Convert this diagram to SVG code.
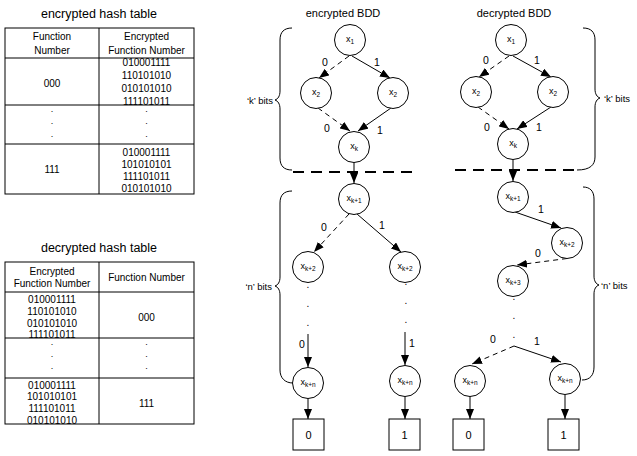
<svg xmlns="http://www.w3.org/2000/svg" width="637" height="456" viewBox="0 0 637 456">
<style>
text{font-family:"Liberation Sans",Arial,sans-serif;fill:#000}
.tt{font-size:12.5px;text-anchor:middle}
.bt{font-size:11px;text-anchor:middle}
.tb{font-size:10px;text-anchor:middle}
.dt{font-size:9px;text-anchor:middle}
.lb{font-size:10.5px;text-anchor:middle}
.br{font-size:9.5px}
.nl{font-size:9px;text-anchor:middle}
.sb{font-size:6.5px}
.tl{font-size:11px;text-anchor:middle}
.grid{fill:none;stroke:#000;stroke-width:1}
.nd circle{fill:#fff;stroke:#000;stroke-width:1}
.nd rect{fill:#fff;stroke:#000;stroke-width:1}
.e{fill:none;stroke:#000;stroke-width:1;marker-end:url(#ah)}
.d{stroke-dasharray:5 4}
.brace{fill:none;stroke:#000;stroke-width:1}
.sep{fill:none;stroke:#000;stroke-width:2;stroke-dasharray:11 7}
</style>
<defs>
<marker id="ah" markerUnits="userSpaceOnUse" markerWidth="10" markerHeight="8" refX="10" refY="4" orient="auto">
<path d="M0,0 L10,4 L0,8 z" fill="#000"/>
</marker>
</defs>
<rect width="637" height="456" fill="#fff"/>

<g id="enc-table">
<text class="tt" x="99" y="17.5">encrypted hash table</text>
<rect class="grid" x="5" y="28" width="189" height="166"/>
<path class="grid" d="M99 28V194M5 58H194M5 105H194M5 144H194"/>
<text class="tb" x="52" y="39.5">Function</text>
<text class="tb" x="52" y="53.5">Number</text>
<text class="tb" x="146.5" y="39.5">Encrypted</text>
<text class="tb" x="146.5" y="53.5">Function Number</text>
<text class="tb" x="52" y="86.5">000</text>
<text class="tb" x="146.5" y="66">010001111</text>
<text class="tb" x="146.5" y="79">110101010</text>
<text class="tb" x="146.5" y="92">010101010</text>
<text class="tb" x="146.5" y="104.5">111101011</text>
<text class="dt" x="52" y="111.5">.</text>
<text class="dt" x="52" y="124">.</text>
<text class="dt" x="52" y="136.5">.</text>
<text class="dt" x="146.5" y="111.5">.</text>
<text class="dt" x="146.5" y="124">.</text>
<text class="dt" x="146.5" y="136.5">.</text>
<text class="tb" x="52" y="173">111</text>
<text class="tb" x="146.5" y="155.5">010001111</text>
<text class="tb" x="146.5" y="167.5">101010101</text>
<text class="tb" x="146.5" y="179.5">111101011</text>
<text class="tb" x="146.5" y="191.7">010101010</text>
</g>

<g id="dec-table">
<text class="tt" x="99" y="251.5">decrypted hash table</text>
<rect class="grid" x="5" y="262" width="189" height="162"/>
<path class="grid" d="M99 262V424M5 292H194M5 338H194M5 378H194"/>
<text class="tb" x="52" y="275">Encrypted</text>
<text class="tb" x="52" y="287">Function Number</text>
<text class="tb" x="146.5" y="280.5">Function Number</text>
<text class="tb" x="52" y="303">010001111</text>
<text class="tb" x="52" y="315">110101010</text>
<text class="tb" x="52" y="327">010101010</text>
<text class="tb" x="52" y="338">111101011</text>
<text class="tb" x="146.5" y="321">000</text>
<text class="dt" x="52" y="345">.</text>
<text class="dt" x="52" y="357">.</text>
<text class="dt" x="52" y="369">.</text>
<text class="dt" x="146.5" y="345">.</text>
<text class="dt" x="146.5" y="357">.</text>
<text class="dt" x="146.5" y="369">.</text>
<text class="tb" x="52" y="388.5">010001111</text>
<text class="tb" x="52" y="400.3">101010101</text>
<text class="tb" x="52" y="412">111101011</text>
<text class="tb" x="52" y="423.5">010101010</text>
<text class="tb" x="146.5" y="407">111</text>
</g>

<g id="titles">
<text class="bt" x="343" y="17">encrypted BDD</text>
<text class="bt" x="514" y="17">decrypted BDD</text>
</g>

<g id="braces">
<path class="brace" d="M292 28C284 28 280 32 280 40L280 91C280 96 278 99 275 100C278 101 280 104 280 109L280 158C280 166 284 170 292 170"/>
<text class="br" x="273" y="103.5" text-anchor="end">‘k’ bits</text>
<path class="brace" d="M292 191C284 191 280 195 280 203L280 277C280 282 278 285 275 286C278 287 280 290 280 295L280 370C280 378 285 383 293 383"/>
<text class="br" x="272" y="289.5" text-anchor="end">‘n’ bits</text>
<path class="brace" d="M583 28C591 28 595 32 595 40L595 89C595 94 597 97 600 98C597 99 595 102 595 107L595 157C595 165 590 170 577 170"/>
<text class="br" x="604" y="101.5">‘k’ bits</text>
<path class="brace" d="M583 187C590 187 594 191 594 199L594 276C594 281 596 284 599 285C596 286 594 289 594 294L594 367C594 375 590 380 582 380"/>
<text class="br" x="601" y="288.5">‘n’ bits</text>
<path class="sep" d="M293 172H417"/>
<path class="sep" d="M455 170H577"/>
</g>

<g id="connectors">
<path class="e d" d="M349 56L319 78"/>
<path class="e" d="M352 56L390 78"/>
<path class="e d" d="M318 108L350 131"/>
<path class="e" d="M391 108L358 131"/>
<path class="e" d="M354 162.5V183"/>
<path class="e d" d="M349 214L314 252"/>
<path class="e" d="M357 214L401 252"/>
<path class="e" d="M308 334V367"/>
<path class="e" d="M405 332V365"/>
<path class="e" d="M308 398.5V419"/>
<path class="e" d="M405 396.5V419"/>
<path class="e d" d="M509 56L479 77"/>
<path class="e" d="M513 56L551 77"/>
<path class="e d" d="M478 107L509 129"/>
<path class="e" d="M551 107L517 129"/>
<path class="e" d="M513 159.5V181"/>
<path class="e" d="M515 212L561 228"/>
<path class="e d" d="M567 258.5L517 265"/>
<path class="e d" d="M514 346L472 364"/>
<path class="e" d="M514 346L561 362"/>
<path class="e" d="M470 396.5V419"/>
<path class="e" d="M565 394.5V419"/>
<text class="lb" x="325" y="66">0</text>
<text class="lb" x="377" y="66">1</text>
<text class="lb" x="327" y="132">0</text>
<text class="lb" x="380" y="134">1</text>
<text class="lb" x="324" y="231">0</text>
<text class="lb" x="382" y="229">1</text>
<text class="lb" x="302" y="348">0</text>
<text class="lb" x="412" y="347">1</text>
<text class="lb" x="486" y="64">0</text>
<text class="lb" x="537" y="64">1</text>
<text class="lb" x="487" y="131">0</text>
<text class="lb" x="539" y="131">1</text>
<text class="lb" x="541" y="213">1</text>
<text class="lb" x="538" y="257">0</text>
<text class="lb" x="493" y="343">0</text>
<text class="lb" x="537" y="345">1</text>
</g>

<g id="e-x1" class="nd"><circle cx="350" cy="40" r="15.5"/><text class="nl" x="350" y="42">x<tspan class="sb" dy="2">1</tspan></text></g>
<g id="e-x2a" class="nd"><circle cx="316" cy="93" r="15.5"/><text class="nl" x="316" y="95">x<tspan class="sb" dy="2">2</tspan></text></g>
<g id="e-x2b" class="nd"><circle cx="393" cy="93" r="15.5"/><text class="nl" x="393" y="95">x<tspan class="sb" dy="2">2</tspan></text></g>
<g id="e-xk" class="nd"><circle cx="354" cy="147" r="15.5"/><text class="nl" x="354" y="149">x<tspan class="sb" dy="2">k</tspan></text></g>
<g id="e-xk1" class="nd"><circle cx="354" cy="199" r="15.5"/><text class="nl" x="354" y="201">x<tspan class="sb" dy="2">k+1</tspan></text></g>
<g id="e-xk2a" class="nd"><circle cx="308" cy="267" r="15.5"/><text class="nl" x="308" y="269">x<tspan class="sb" dy="2">k+2</tspan></text></g>
<g id="e-xk2b" class="nd"><circle cx="405" cy="267" r="15.5"/><text class="nl" x="405" y="269">x<tspan class="sb" dy="2">k+2</tspan></text></g>
<g id="e-dots"><text class="tb" x="308" y="288">.</text><text class="tb" x="308" y="307">.</text><text class="tb" x="308" y="326">.</text><text class="tb" x="406" y="285">.</text><text class="tb" x="406" y="304">.</text><text class="tb" x="406" y="323">.</text></g>
<g id="e-xkna" class="nd"><circle cx="308" cy="383" r="15.5"/><text class="nl" x="308" y="385">x<tspan class="sb" dy="2">k+n</tspan></text></g>
<g id="e-xknb" class="nd"><circle cx="405" cy="381" r="15.5"/><text class="nl" x="405" y="383">x<tspan class="sb" dy="2">k+n</tspan></text></g>
<g id="e-t0" class="nd"><rect x="293" y="419" width="31" height="31"/><text class="tl" x="308.5" y="439">0</text></g>
<g id="e-t1" class="nd"><rect x="389" y="419" width="31" height="31"/><text class="tl" x="404.5" y="439">1</text></g>

<g id="d-x1" class="nd"><circle cx="511" cy="40" r="15.5"/><text class="nl" x="511" y="42">x<tspan class="sb" dy="2">1</tspan></text></g>
<g id="d-x2a" class="nd"><circle cx="476" cy="92" r="15.5"/><text class="nl" x="476" y="94">x<tspan class="sb" dy="2">2</tspan></text></g>
<g id="d-x2b" class="nd"><circle cx="553" cy="92" r="15.5"/><text class="nl" x="553" y="94">x<tspan class="sb" dy="2">2</tspan></text></g>
<g id="d-xk" class="nd"><circle cx="513" cy="144" r="15.5"/><text class="nl" x="513" y="146">x<tspan class="sb" dy="2">k</tspan></text></g>
<g id="d-xk1" class="nd"><circle cx="513" cy="197" r="15.5"/><text class="nl" x="513" y="199">x<tspan class="sb" dy="2">k+1</tspan></text></g>
<g id="d-xk2" class="nd"><circle cx="567" cy="243" r="15.5"/><text class="nl" x="567" y="245">x<tspan class="sb" dy="2">k+2</tspan></text></g>
<g id="d-xk3" class="nd"><circle cx="513" cy="281" r="15.5"/><text class="nl" x="513" y="283">x<tspan class="sb" dy="2">k+3</tspan></text></g>
<g id="d-dots"><text class="tb" x="514" y="300">.</text><text class="tb" x="514" y="319">.</text><text class="tb" x="514" y="338">.</text></g>
<g id="d-xkna" class="nd"><circle cx="470" cy="381" r="15.5"/><text class="nl" x="470" y="383">x<tspan class="sb" dy="2">k+n</tspan></text></g>
<g id="d-xknb" class="nd"><circle cx="565" cy="379" r="15.5"/><text class="nl" x="565" y="381">x<tspan class="sb" dy="2">k+n</tspan></text></g>
<g id="d-t0" class="nd"><rect x="453" y="419" width="31" height="31"/><text class="tl" x="468.5" y="439">0</text></g>
<g id="d-t1" class="nd"><rect x="548" y="419" width="31" height="31"/><text class="tl" x="563.5" y="439">1</text></g>
</svg>
